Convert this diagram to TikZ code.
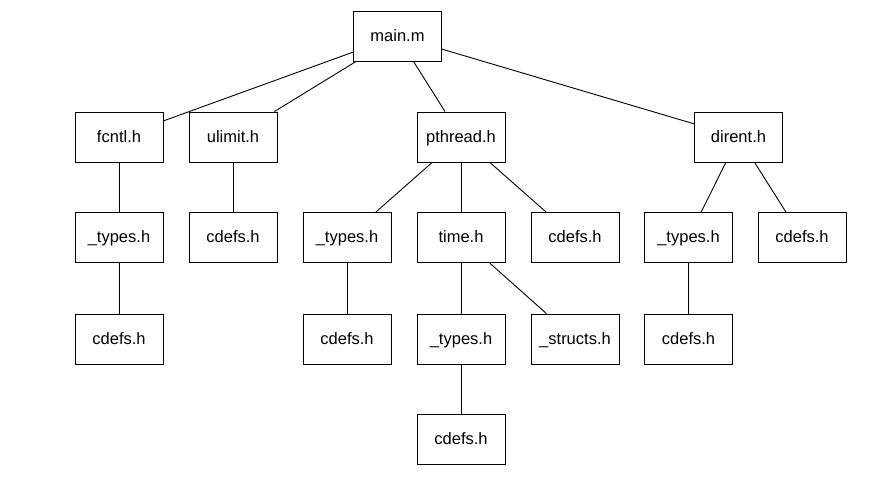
\documentclass[tikz,border=0pt]{standalone}
\usepackage{fontspec}
\setmainfont{Liberation Sans}
\begin{document}
\begin{tikzpicture}[x=1pt,y=-1pt,
  file/.style={draw,line width=0.9pt,minimum width=88pt,minimum height=50pt,inner sep=0pt,
    text height=12pt,text depth=1.5pt,font=\fontsize{16.5}{18}\selectfont,fill=white},
  link/.style={line width=0.9pt}]
\useasboundingbox[fill=white] (0,0) rectangle (889,491);
% header tree, one node per include
\node[file] (main) at (397.5,36) {main.m};
\node[file] (fcntl) at (119,137) {fcntl.h};
\node[file] (ulimit) at (233,137) {ulimit.h};
\node[file] (pthread) at (461,137) {pthread.h};
\node[file] (dirent) at (738.5,137) {dirent.h};
\node[file] (ftypes) at (119,237.5) {\_types.h};
\node[file] (ucdefs) at (233,237.5) {cdefs.h};
\node[file] (ptypes) at (347,237.5) {\_types.h};
\node[file] (ptime) at (461,237.5) {time.h};
\node[file] (pcdefs) at (575,237.5) {cdefs.h};
\node[file] (dtypes) at (688.5,237.5) {\_types.h};
\node[file] (dcdefs) at (802,237.5) {cdefs.h};
\node[file] (fcdefs) at (119,339) {cdefs.h};
\node[file] (ptcdefs) at (347,339) {cdefs.h};
\node[file] (ttypes) at (461,339) {\_types.h};
\node[file] (tstructs) at (575,339) {\_structs.h};
\node[file] (dtcdefs) at (688.5,339) {cdefs.h};
\node[file] (ttcdefs) at (461,439) {cdefs.h};
% include edges
\draw[link] (main) -- (fcntl);
\draw[link] (main) -- (ulimit);
\draw[link] (main) -- (pthread);
\draw[link] (main) -- (dirent);
\draw[link] (fcntl) -- (ftypes);
\draw[link] (ftypes) -- (fcdefs);
\draw[link] (ulimit) -- (ucdefs);
\draw[link] (pthread) -- (ptypes);
\draw[link] (pthread) -- (ptime);
\draw[link] (pthread) -- (pcdefs);
\draw[link] (ptypes) -- (ptcdefs);
\draw[link] (ptime) -- (ttypes);
\draw[link] (ptime) -- (tstructs);
\draw[link] (ttypes) -- (ttcdefs);
\draw[link] (dirent) -- (dtypes);
\draw[link] (dirent) -- (dcdefs);
\draw[link] (dtypes) -- (dtcdefs);
\end{tikzpicture}
\end{document}
